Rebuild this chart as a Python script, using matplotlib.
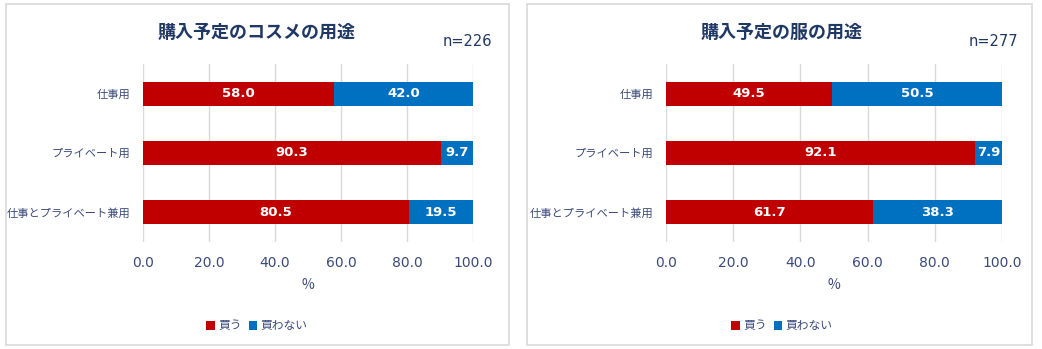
import matplotlib.pyplot as plt
from matplotlib.patches import Rectangle

plt.rcParams['font.family'] = ['Noto Sans CJK JP', 'DejaVu Sans']

# データ
categories = ['仕事用', 'プライベート用', '仕事とプライベート兼用']
cosme_buy = [58.0, 90.3, 80.5]
cosme_no = [42.0, 9.7, 19.5]
clothes_buy = [49.5, 92.1, 61.7]
clothes_no = [50.5, 7.9, 38.3]
titles = ['購入予定のコスメの用途', '購入予定の服の用途']
n_labels = ['n=226', 'n=277']
legend_labels = ['買う', '買わない']
xticks = [0, 20, 40, 60, 80, 100]

RED = '#C00000'
BLUE = '#0070C0'
TXT = '#3A4A7A'
TITLE = '#1F3864'

fig = plt.figure(figsize=(10.42, 3.49), dpi=100)

# パネル枠
for x0, w in [(6, 503), (527, 505)]:
    fig.patches.append(Rectangle((x0 / 1042, 4 / 349), w / 1042, 341 / 349,
                                 transform=fig.transFigure, fill=False,
                                 edgecolor='#D9D9D9', linewidth=1.2))

panels = [
    (143, 330, cosme_buy, cosme_no, 257, 467),
    (666, 336, clothes_buy, clothes_no, 782, 993),
]

for i, (ax_x, ax_w, buy, no, tx, nx) in enumerate(panels):
    ax = fig.add_axes([ax_x / 1042, 1 - 242 / 349, ax_w / 1042, (242 - 64) / 349])
    y = list(range(len(categories)))
    b1 = ax.barh(y, buy, height=0.4, color=RED, label=legend_labels[0])
    b2 = ax.barh(y, no, left=buy, height=0.4, color=BLUE, label=legend_labels[1])
    for bars, vals, lefts in [(b1, buy, [0] * 3), (b2, no, buy)]:
        for yy, v, l in zip(y, vals, lefts):
            ax.text(l + v / 2, yy, f'{v:.1f}', ha='center', va='center',
                    color='white', fontsize=9.5, fontweight='bold',
                    family=['DejaVu Sans'])
    ax.set_ylim(2.5, -0.5)
    ax.set_xlim(0, 100)
    ax.set_xticks(xticks)
    ax.set_xticklabels([f'{t:.1f}' for t in xticks], family=['DejaVu Sans'])
    ax.set_yticks(y)
    ax.set_yticklabels(categories)
    ax.tick_params(axis='x', colors=TXT, labelsize=10, length=0, pad=10)
    ax.tick_params(axis='y', colors=TXT, labelsize=8.1, length=0, pad=9)
    ax.grid(axis='x', color='#D9D9D9', linewidth=1)
    ax.set_axisbelow(True)
    for s in ax.spines.values():
        s.set_visible(False)
    ax.set_xlabel('%', color=TXT, fontsize=10, labelpad=6)
    fig.text(tx / 1042, 1 - 32 / 349, titles[i], ha='center', va='center',
             fontsize=13, fontweight='bold', color=TITLE)
    fig.text(nx / 1042, 1 - 42 / 349, n_labels[i], ha='center', va='center',
             fontsize=10.5, color=TITLE, family=['DejaVu Sans'])
    leg = fig.legend(handles=[b1, b2], loc='center',
                     bbox_to_anchor=(tx / 1042, 1 - 326 / 349),
                     ncol=2, frameon=False, fontsize=8.5, handlelength=0.7,
                     handleheight=0.7, handletextpad=0.3, columnspacing=0.6)
    for t in leg.get_texts():
        t.set_color(TXT)

fig.savefig('out.png', dpi=100)
